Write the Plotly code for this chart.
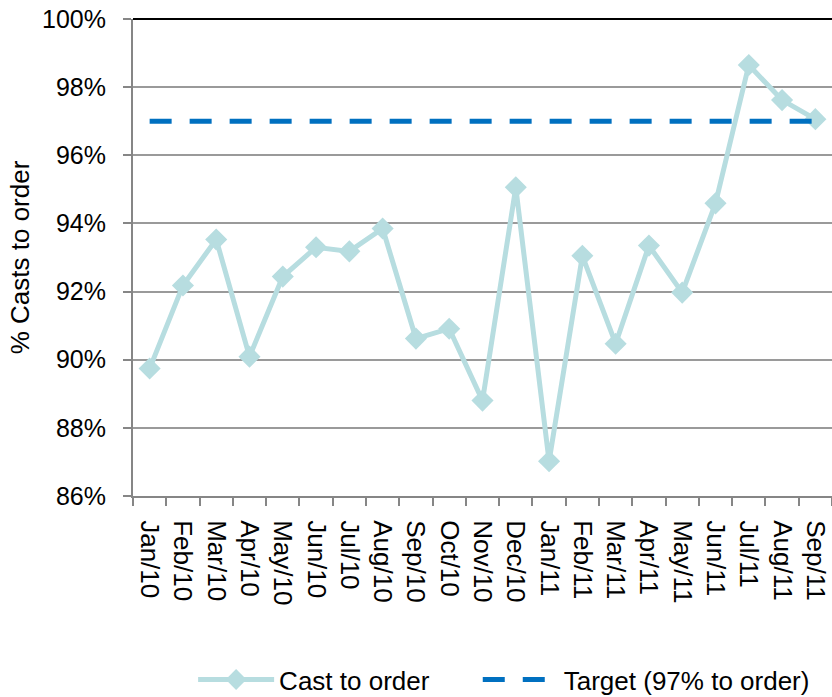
import plotly.graph_objects as go

months = ["Jan/10", "Feb/10", "Mar/10", "Apr/10", "May/10", "Jun/10", "Jul/10",
          "Aug/10", "Sep/10", "Oct/10", "Nov/10", "Dec/10", "Jan/11", "Feb/11",
          "Mar/11", "Apr/11", "May/11", "Jun/11", "Jul/11", "Aug/11", "Sep/11"]
cast_to_order = [89.74, 92.18, 93.53, 90.09, 92.44, 93.30, 93.18, 93.85, 90.62,
                 90.91, 88.80, 95.06, 87.02, 93.05, 90.47, 93.35, 91.97, 94.59,
                 98.65, 97.62, 97.06]
target = [97] * len(months)
y_ticks = [86, 88, 90, 92, 94, 96, 98, 100]

FONT = "Liberation Sans, Arial, sans-serif"
NBSP = "\u00a0"

fig = go.Figure()
fig.add_trace(go.Scatter(
    x=months, y=cast_to_order, name="Cast to order" + NBSP * 6, mode="lines+markers",
    line=dict(color="#B7DDE0", width=5),
    marker=dict(symbol="diamond", size=17, color="#B7DDE0"),
))
fig.add_trace(go.Scatter(
    x=months, y=target, name="Target (97% to order)", mode="lines",
    line=dict(color="#0070C0", width=5, dash="22px,18px"),
))

fig.update_layout(
    width=832, height=697,
    margin=dict(l=133, r=0, t=19, b=201),
    paper_bgcolor="white", plot_bgcolor="white",
    font=dict(family=FONT, size=25, color="black"),
    showlegend=True,
    legend=dict(orientation="h", x=0.086, xanchor="left",
                yref="container", y=0.025, yanchor="middle",
                font=dict(size=26), itemwidth=76, tracegroupgap=0),
    xaxis=dict(
        type="category", range=[-0.5, len(months) - 0.5],
        tickangle=90, tickson="boundaries",
        tickmode="array", tickvals=months, ticktext=months,
        ticks="outside", ticklen=8, tickcolor="#868686", tickwidth=2,
        showline=True, linecolor="#868686", linewidth=2,
        showgrid=False, tickfont=dict(size=26), automargin=False,
        ticklabelstandoff=17,
    ),
    yaxis=dict(
        range=[86, 100], tickvals=y_ticks, ticktext=[f"{v}%" for v in y_ticks],
        ticks="outside", ticklen=8, tickcolor="#868686", tickwidth=2,
        showline=True, linecolor="#868686", linewidth=2,
        showgrid=True, gridcolor="#9A9A9A", gridwidth=1.5,
        zeroline=False, automargin=False, ticklabelstandoff=12,
        title=dict(text="% Casts to order", font=dict(size=26), standoff=5),
        tickfont=dict(size=25),
    ),
    shapes=[dict(type="line", xref="paper", yref="paper", x0=0, x1=1, y0=1, y1=1,
                 line=dict(color="black", width=2))],
)

fig.write_html("out.html", post_script="document.body.style.margin='0';",
               config={"displayModeBar": False})
